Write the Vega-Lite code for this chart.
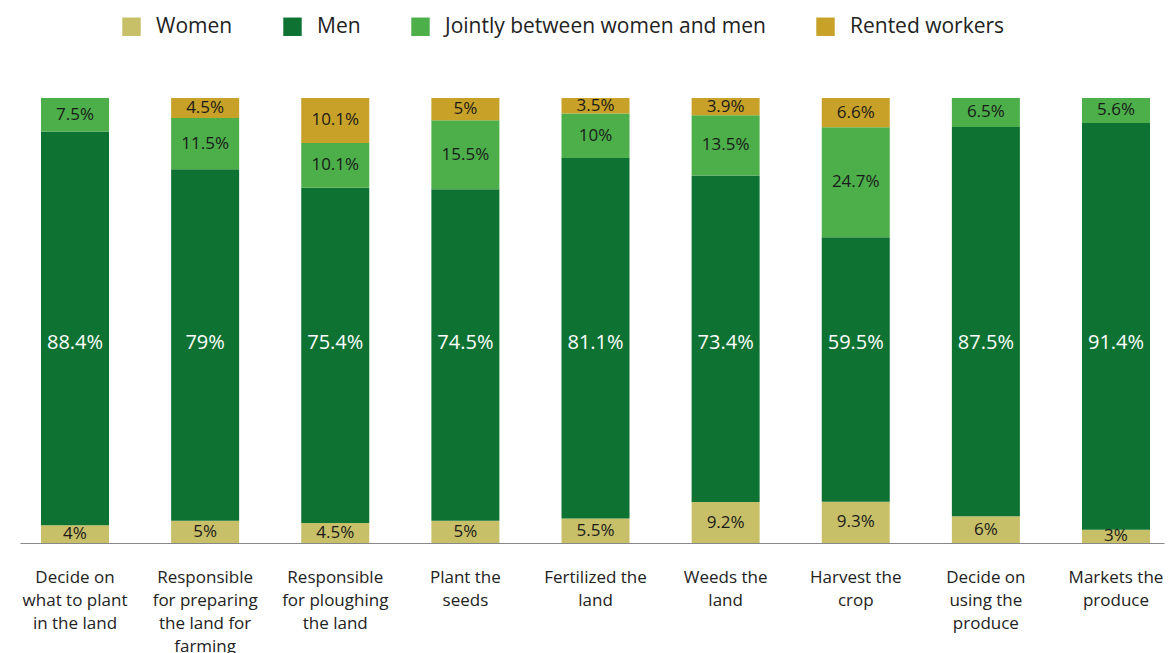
{
  "$schema": "https://vega.github.io/schema/vega-lite/v6.json",
  "autosize": "none",
  "padding": {"left": 20, "top": 98, "right": 6, "bottom": 110},
  "width": 1144,
  "height": 445,
  "background": "white",
  "config": {"view": {"stroke": null}, "font": "Open Sans"},
  "data": {"values": [
    {"task": "Decide on|what to plant|in the land", "group": "Women", "k": 1, "pct": 4},
    {"task": "Decide on|what to plant|in the land", "group": "Men", "k": 2, "pct": 88.4},
    {"task": "Decide on|what to plant|in the land", "group": "Jointly between women and men", "k": 3, "pct": 7.5},
    {"task": "Responsible|for preparing|the land for|farming", "group": "Women", "k": 1, "pct": 5},
    {"task": "Responsible|for preparing|the land for|farming", "group": "Men", "k": 2, "pct": 79},
    {"task": "Responsible|for preparing|the land for|farming", "group": "Jointly between women and men", "k": 3, "pct": 11.5},
    {"task": "Responsible|for preparing|the land for|farming", "group": "Rented workers", "k": 4, "pct": 4.5},
    {"task": "Responsible|for ploughing|the land", "group": "Women", "k": 1, "pct": 4.5},
    {"task": "Responsible|for ploughing|the land", "group": "Men", "k": 2, "pct": 75.4},
    {"task": "Responsible|for ploughing|the land", "group": "Jointly between women and men", "k": 3, "pct": 10.1},
    {"task": "Responsible|for ploughing|the land", "group": "Rented workers", "k": 4, "pct": 10.1},
    {"task": "Plant the|seeds", "group": "Women", "k": 1, "pct": 5},
    {"task": "Plant the|seeds", "group": "Men", "k": 2, "pct": 74.5},
    {"task": "Plant the|seeds", "group": "Jointly between women and men", "k": 3, "pct": 15.5},
    {"task": "Plant the|seeds", "group": "Rented workers", "k": 4, "pct": 5},
    {"task": "Fertilized the|land", "group": "Women", "k": 1, "pct": 5.5},
    {"task": "Fertilized the|land", "group": "Men", "k": 2, "pct": 81.1},
    {"task": "Fertilized the|land", "group": "Jointly between women and men", "k": 3, "pct": 10},
    {"task": "Fertilized the|land", "group": "Rented workers", "k": 4, "pct": 3.5},
    {"task": "Weeds the|land", "group": "Women", "k": 1, "pct": 9.2},
    {"task": "Weeds the|land", "group": "Men", "k": 2, "pct": 73.4},
    {"task": "Weeds the|land", "group": "Jointly between women and men", "k": 3, "pct": 13.5},
    {"task": "Weeds the|land", "group": "Rented workers", "k": 4, "pct": 3.9},
    {"task": "Harvest the|crop", "group": "Women", "k": 1, "pct": 9.3},
    {"task": "Harvest the|crop", "group": "Men", "k": 2, "pct": 59.5},
    {"task": "Harvest the|crop", "group": "Jointly between women and men", "k": 3, "pct": 24.7},
    {"task": "Harvest the|crop", "group": "Rented workers", "k": 4, "pct": 6.6},
    {"task": "Decide on|using the|produce", "group": "Women", "k": 1, "pct": 6},
    {"task": "Decide on|using the|produce", "group": "Men", "k": 2, "pct": 87.5},
    {"task": "Decide on|using the|produce", "group": "Jointly between women and men", "k": 3, "pct": 6.5},
    {"task": "Markets the|produce", "group": "Women", "k": 1, "pct": 3},
    {"task": "Markets the|produce", "group": "Men", "k": 2, "pct": 91.4},
    {"task": "Markets the|produce", "group": "Jointly between women and men", "k": 3, "pct": 5.6}
  ]},
  "transform": [
    {"stack": "pct", "groupby": ["task"], "sort": [{"field": "k", "order": "ascending"}], "offset": "normalize", "as": ["y0", "y1"]},
    {"calculate": "(datum.y0 + datum.y1) / 2", "as": "ymid"},
    {"calculate": "datum.pct + '%'", "as": "label"}
  ],
  "encoding": {
    "x": {
      "field": "task", "type": "nominal", "sort": null,
      "scale": {"paddingInner": 0.4773, "paddingOuter": 0.1345, "align": 0.6},
      "axis": {
        "title": null, "labelAngle": 0, "labelExpr": "split(datum.label, '|')",
        "labelFont": "Open Sans", "labelFontSize": 17, "labelLineHeight": 23,
        "labelColor": "#222222", "ticks": false, "domainColor": "#888888",
        "domainWidth": 1.2, "labelPadding": 26, "labelLimit": 300
      }
    }
  },
  "layer": [
    {
      "mark": {"type": "bar"},
      "encoding": {
        "y": {"field": "y0", "type": "quantitative", "scale": {"domain": [0, 1]}, "axis": null},
        "y2": {"field": "y1"},
        "color": {
          "field": "group", "type": "nominal",
          "scale": {
            "domain": ["Women", "Men", "Jointly between women and men", "Rented workers"],
            "range": ["#c8c068", "#0e7233", "#4caf4a", "#c8a228"]
          },
          "legend": {
            "orient": "none", "legendX": 101, "legendY": -82, "direction": "horizontal",
            "title": null, "symbolType": "square", "symbolSize": 340, "symbolStrokeWidth": 0,
            "labelFont": "Open Sans", "labelFontSize": 21, "labelColor": "#222222",
            "labelOffset": 14, "columnPadding": 49, "labelLimit": 500
          }
        }
      }
    },
    {
      "transform": [{"filter": "datum.group != 'Men'"}],
      "mark": {"type": "text", "fontSize": 17, "color": "#1a1a1a", "baseline": "middle", "font": "Open Sans"},
      "encoding": {
        "y": {"field": "ymid", "type": "quantitative"},
        "text": {"field": "label"}
      }
    },
    {
      "transform": [{"filter": "datum.group == 'Men'"}],
      "mark": {"type": "text", "fontSize": 20, "color": "white", "baseline": "middle", "font": "Open Sans"},
      "encoding": {
        "y": {"datum": 0.45, "type": "quantitative"},
        "text": {"field": "label"}
      }
    }
  ]
}
